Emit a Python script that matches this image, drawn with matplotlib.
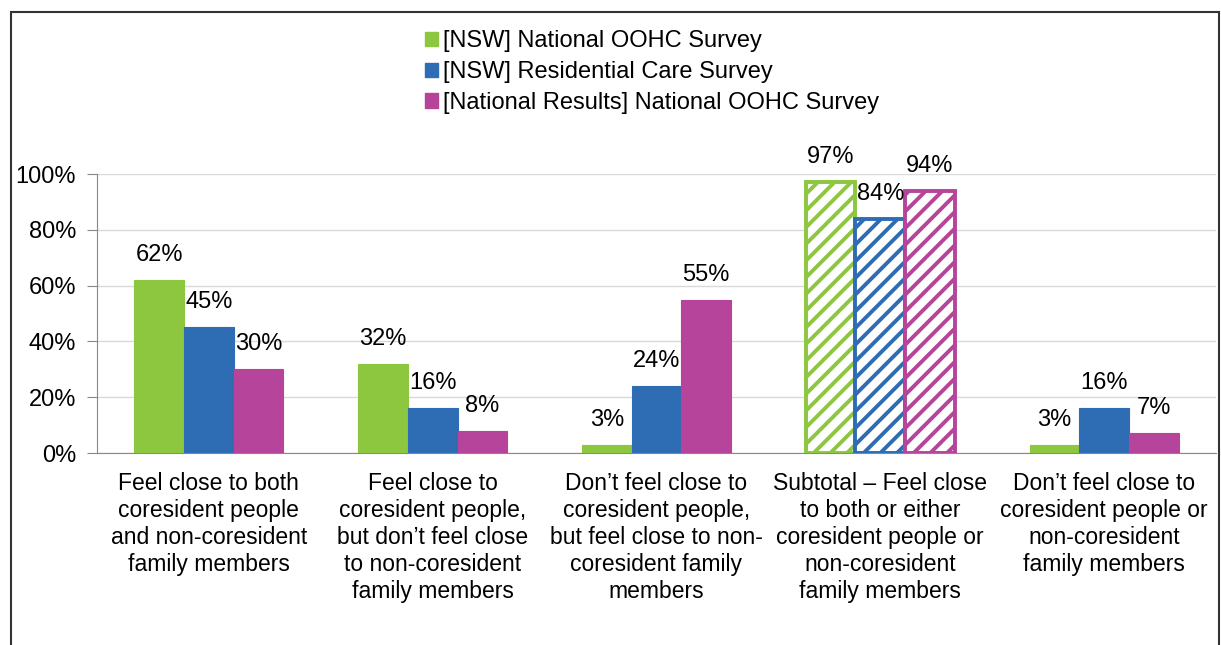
import numpy as np
import matplotlib
matplotlib.use("Agg")
import matplotlib.pyplot as plt
from matplotlib.patches import Rectangle, Patch

plt.rcParams["font.family"] = ["Liberation Sans", "DejaVu Sans"]
plt.rcParams["hatch.linewidth"] = 2.8

# Data
categories = [
    "Feel close to both\ncoresident people\nand non-coresident\nfamily members",
    "Feel close to\ncoresident people,\nbut don\u2019t feel close\nto non-coresident\nfamily members",
    "Don\u2019t feel close to\ncoresident people,\nbut feel close to non-\ncoresident family\nmembers",
    "Subtotal \u2013 Feel close\nto both or either\ncoresident people or\nnon-coresident\nfamily members",
    "Don\u2019t feel close to\ncoresident people or\nnon-coresident\nfamily members",
]
series_names = [
    "[NSW] National OOHC Survey",
    "[NSW] Residential Care Survey",
    "[National Results] National OOHC Survey",
]
nsw_oohc = [0.62, 0.32, 0.03, 0.97, 0.03]
nsw_resi = [0.45, 0.16, 0.24, 0.84, 0.16]
national_oohc = [0.30, 0.08, 0.55, 0.94, 0.07]
subtotal_idx = 3

colors = ["#8DC63F", "#2E6DB4", "#B5449A"]
fs = 16.5

fig = plt.figure(figsize=(12.21, 6.45), dpi=100)
ax = fig.add_axes([97 / 1221, 1 - 453 / 645, (1216 - 97) / 1221, (453 - 174) / 645])

x = np.arange(len(categories))
width = 0.222
series = [nsw_oohc, nsw_resi, national_oohc]

for i, (vals, name, col) in enumerate(zip(series, series_names, colors)):
    pos = x + (i - 1) * width
    bars = ax.bar(pos, vals, width, color=col, edgecolor=col, linewidth=0.8,
                  label=name, zorder=3)
    # subtotal bar is drawn hatched
    b = bars[subtotal_idx]
    b.set_facecolor("white")
    b.set_hatch("//")
    b.set_edgecolor(col)
    b.set_linewidth(2.8)
    for p, v in zip(pos, vals):
        ax.annotate(f"{v:.0%}", (p, v), xytext=(0, 18), textcoords="offset points",
                    ha="center", va="center", fontsize=17, zorder=4)

ax.set_ylim(0, 1)
ax.set_xlim(-0.5, len(categories) - 0.5)
ticks = np.arange(0, 1.01, 0.2)
ax.set_yticks(ticks)
ax.set_yticklabels([f"{t:.0%}" for t in ticks], fontsize=17)
ax.set_xticks(x)
ax.set_xticklabels(categories, fontsize=fs, linespacing=1.22, va="top")
ax.tick_params(axis="x", length=0, pad=14)
ax.tick_params(axis="y", length=7, color="#888888", pad=8)
ax.grid(axis="y", color="#D9D9D9", linewidth=1, zorder=0)
for s in ["top", "right"]:
    ax.spines[s].set_visible(False)
ax.spines["left"].set_color("#888888")
ax.spines["bottom"].set_color("#888888")

leg_handles = [Patch(facecolor=c, edgecolor=c) for c in colors]
fig.legend(leg_handles, series_names, loc="upper left",
           bbox_to_anchor=(425 / 1221, 1 - 30 / 645), fontsize=17, frameon=False,
           handlelength=0.55, handleheight=0.55, handletextpad=0.2, labelspacing=0.38,
           borderaxespad=0, borderpad=0)

# outer frame of the chart area
fig.patches.append(Rectangle((11 / 1221, -0.1), (1219 - 11) / 1221, 1.1 - 12 / 645,
                             transform=fig.transFigure, fill=False,
                             edgecolor="#333333", linewidth=1.5))

fig.savefig("out.png", dpi=100)
